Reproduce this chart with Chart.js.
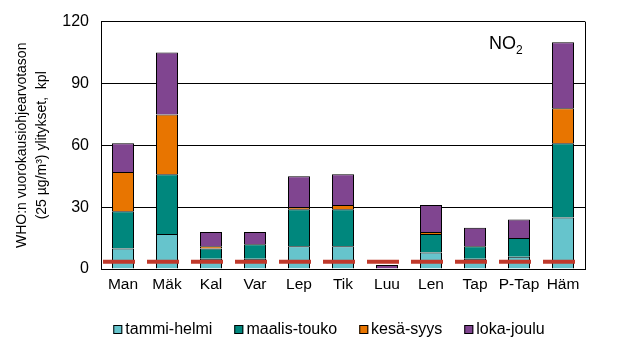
<!DOCTYPE html>
<html>
<head>
<meta charset="utf-8">
<script src="https://cdn.jsdelivr.net/npm/chart.js@4"></script>
<style>
    body { margin: 0; background: #fff; }
    .wrap { position: relative; width: 620px; height: 354px; }
    .legend { position: absolute; top: 320px; left: 329px; transform: translateX(-50%); white-space: nowrap;
        font-family: "Liberation Sans", Arial, sans-serif; font-size: 16px; line-height: 18px; color: #000; }
    .legend span.item { display: inline-block; margin: 0 11px; }
    .legend span.box { display: inline-block; width: 7px; height: 7px; border: 1px solid #000; margin-right: 3px; vertical-align: 0px; }
</style>
</head>
<body>
<div class="wrap">
    <canvas id="no2Chart" width="620" height="354"></canvas>
    <div class="legend" id="legend"></div>
</div>
<script>
const stations = ['Man', 'Mäk', 'Kal', 'Var', 'Lep', 'Tik', 'Luu', 'Len', 'Tap', 'P-Tap', 'Häm'];
const seriesNames = ['tammi-helmi', 'maalis-touko', 'kesä-syys', 'loka-joulu'];
const seriesColors = ['#66c4cc', '#00877d', '#e87500', '#804590'];

const tammiHelmi = [10, 17, 5, 5, 11, 11, 0, 8, 5, 6, 25];
const maalisTouko = [18, 29, 5, 7, 18, 18, 0, 9, 6, 9, 36];
const kesaSyys = [19, 29, 1, 0, 1, 2, 0, 1, 0, 0, 17];
const lokaJoulu = [14, 30, 7, 6, 15, 15, 2, 13, 9, 9, 32];

const whoLimit = 3.5; // sallitut ylitykset
const yTicks = [0, 30, 60, 90, 120];

const seriesValues = [tammiHelmi, maalisTouko, kesaSyys, lokaJoulu];

let datasets = [];
for (let i = 0; i < seriesNames.length; i++) {
    datasets.push({
        type: 'bar',
        label: seriesNames[i],
        data: seriesValues[i],
        backgroundColor: seriesColors[i],
        borderColor: '#000',
        borderWidth: 1,
        borderSkipped: 'start',
        barPercentage: 0.5,
        categoryPercentage: 1,
        grouped: false,
        order: 1
    });
}
// punainen katkoviiva koko kuvaajan levyisenä
datasets.push({
    type: 'line',
    label: 'raja',
    data: [{x: 0, y: whoLimit}, {x: 1, y: whoLimit}],
    xAxisID: 'x2',
    stack: 'raja',
    borderColor: 'rgb(192, 57, 43)',
    borderWidth: 4,
    borderDash: [32, 12],
    borderDashOffset: -2,
    pointRadius: 0,
    order: 0
});

// kehys ja NO2-teksti
const framePlugin = {
    id: 'frame',
    afterDraw(chart) {
        const a = chart.chartArea;
        const ctx = chart.ctx;
        ctx.save();
        ctx.strokeStyle = '#000';
        ctx.lineWidth = 1;
        ctx.beginPath();
        ctx.moveTo(Math.round(a.right) + 0.5, a.top);
        ctx.lineTo(Math.round(a.right) + 0.5, a.bottom);
        ctx.stroke();
        ctx.fillStyle = '#000';
        ctx.font = '18px "Liberation Sans", Arial';
        ctx.textBaseline = 'alphabetic';
        ctx.fillText('NO', 489, 49);
        let w = ctx.measureText('NO').width;
        ctx.font = '12px "Liberation Sans", Arial';
        ctx.fillText('2', 489 + w, 54);
        ctx.restore();
    }
};

new Chart(document.getElementById('no2Chart'), {
    type: 'bar',
    data: {
        labels: stations,
        datasets: datasets
    },
    options: {
        responsive: false,
        animation: false,
        layout: {
            padding: {left: 0, right: 35, top: 20, bottom: 55}
        },
        plugins: {
            legend: {display: false},
            tooltip: {enabled: false}
        },
        scales: {
            x: {
                stacked: true,
                offset: true,
                grid: {display: false, drawTicks: false},
                border: {display: true, color: '#000', width: 1},
                ticks: {
                    color: '#000',
                    padding: 6,
                    maxRotation: 0,
                    autoSkip: false,
                    font: {family: '"Liberation Sans", Arial', size: 15.5}
                },
                afterFit: function (scale) { scale.height = 30; }
            },
            x2: {
                type: 'linear',
                min: 0,
                max: 1,
                offset: false,
                display: false
            },
            y: {
                stacked: true,
                min: 0,
                max: 120,
                afterBuildTicks: function (scale) {
                    scale.ticks = yTicks.map(v => ({value: v}));
                },
                grid: {color: '#000', lineWidth: 1, drawTicks: false},
                border: {display: true, color: '#000', width: 1},
                ticks: {
                    color: '#000',
                    padding: 12,
                    font: {family: '"Liberation Sans", Arial', size: 16}
                },
                title: {
                    display: true,
                    text: ['WHO:n vuorokausiohjearvotason', '(25 µg/m³) ylitykset,  kpl'],
                    color: '#000',
                    padding: {top: 12, bottom: 0},
                    font: {family: '"Liberation Sans", Arial', size: 14, lineHeight: 1.45}
                },
                afterFit: function (scale) { scale.width = 101; }
            }
        }
    },
    plugins: [framePlugin]
});

let legendHtml = '';
for (let i = 0; i < seriesNames.length; i++) {
    legendHtml += '<span class="item"><span class="box" style="background:' + seriesColors[i] + '"></span>' + seriesNames[i] + '</span>';
}
document.getElementById('legend').innerHTML = legendHtml;
</script>
</body>
</html>
